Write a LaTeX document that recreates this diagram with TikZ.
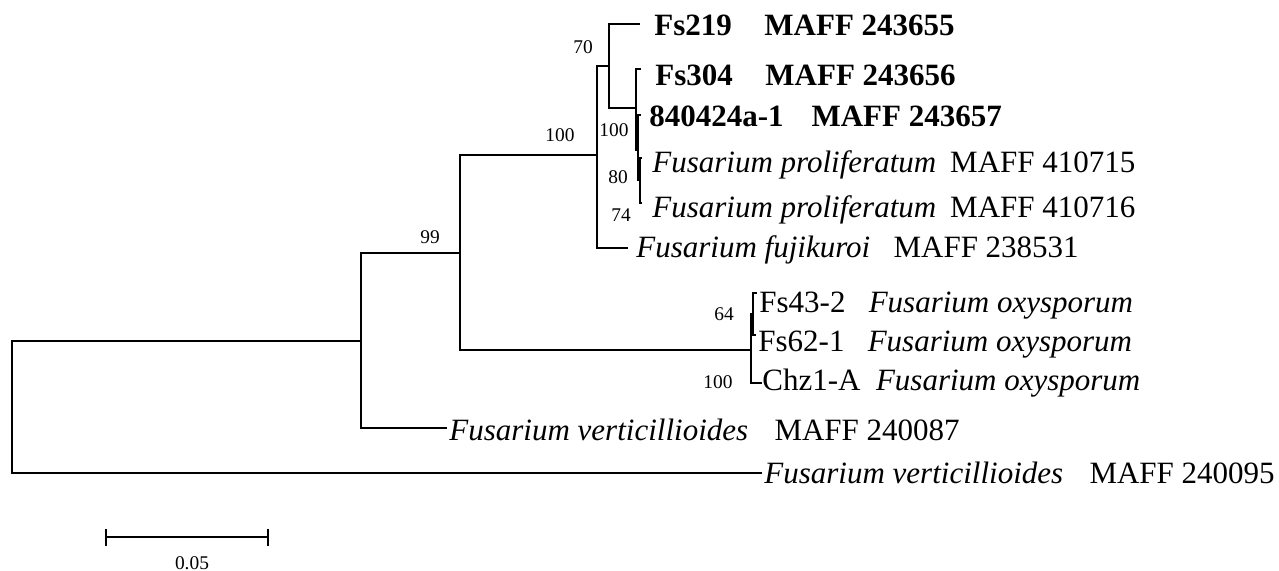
\documentclass[tikz,border=0pt]{standalone}
\usepackage{fontspec}
\setmainfont{Liberation Serif}
\usetikzlibrary{arrows.meta}
\begin{document}
\begin{tikzpicture}[x=0.5pt,y=-0.5pt,
  br/.style={line width=1pt},
  leaf/.style={anchor=base west,inner sep=0pt,font=\fontsize{15.5}{18}\selectfont},
  boot/.style={inner sep=0pt,font=\fontsize{9.7}{11}\selectfont}]
\useasboundingbox (0,0) rectangle (1279,571);
% internal nodes
\coordinate (root) at (12,407);
\coordinate (A) at (361,341);
\coordinate (B) at (460,253);
\coordinate (C) at (597,155);
\coordinate (D) at (609,66);
\coordinate (E) at (636,108);
\coordinate (F) at (638,150);
\coordinate (G) at (640,180);
\coordinate (H) at (751,350);
\coordinate (I) at (753,314);
% leaf tips
\coordinate (t219) at (640,24);
\coordinate (t304) at (641,69);
\coordinate (t840) at (641,115);
\coordinate (tp1) at (642,158);
\coordinate (tp2) at (642,203);
\coordinate (tfuj) at (628,248);
\coordinate (t43) at (757,293);
\coordinate (t62) at (756,335);
\coordinate (tchz) at (762,383);
\coordinate (tv87) at (447,428);
\coordinate (tv95) at (762,473);
% branches
\draw[br] (root) |- (A);
\draw[br] (root) |- (tv95);
\draw[br] (A) |- (B);
\draw[br] (A) |- (tv87);
\draw[br] (B) |- (C);
\draw[br] (B) |- (H);
\draw[br] (C) |- (D);
\draw[br] (C) |- (tfuj);
\draw[br] (D) |- (t219);
\draw[br] (D) |- (E);
\draw[br] (E) |- (t304);
\draw[br] (E) |- (F);
\draw[br] (F) |- (t840);
\draw[br] (F) |- (G);
\draw[br] (G) |- (tp1);
\draw[br] (G) |- (tp2);
\draw[br] (H) |- (I);
\draw[br] (H) |- (tchz);
\draw[br] (I) |- (t43);
\draw[br] (I) |- (t62);
% leaf labels
\node[leaf] (l219) at ([xshift=7pt]t219 |- 0,36) {\textbf{Fs219}\hspace{1.05em}\textbf{MAFF 243655}};
\node[leaf] (l304) at ([xshift=7pt]t304 |- 0,86) {\textbf{Fs304}\hspace{1.05em}\textbf{MAFF 243656}};
\node[leaf] (l840) at ([xshift=4pt]t840 |- 0,127) {\textbf{840424a-1}\hspace{0.9em}\textbf{MAFF 243657}};
\node[leaf] (lp1) at ([xshift=5pt]tp1 |- 0,173) {\textit{Fusarium proliferatum}\hspace{0.45em}MAFF 410715};
\node[leaf] (lp2) at ([xshift=5pt]tp2 |- 0,218) {\textit{Fusarium proliferatum}\hspace{0.45em}MAFF 410716};
\node[leaf] (lfuj) at ([xshift=4pt]tfuj |- 0,258) {\textit{Fusarium fujikuroi}\hspace{0.75em}MAFF 238531};
\node[leaf] (l43) at ([xshift=1pt]t43 |- 0,313) {Fs43-2\hspace{0.75em}\textit{Fusarium oxysporum}};
\node[leaf] (l62) at ([xshift=1pt]t62 |- 0,352) {Fs62-1\hspace{0.75em}\textit{Fusarium oxysporum}};
\node[leaf] (lchz) at ([xshift=0pt]tchz |- 0,391) {Chz1-A\hspace{0.5em}\textit{Fusarium oxysporum}};
\node[leaf] (lv87) at ([xshift=1pt]tv87 |- 0,440) {\textit{Fusarium verticillioides}\hspace{0.85em}MAFF 240087};
\node[leaf] (lv95) at ([xshift=1pt]tv95 |- 0,483) {\textit{Fusarium verticillioides}\hspace{0.85em}MAFF 240095};
% bootstrap values
\node[boot] (b70) at (583,47) {70};
\node[boot] (b100a) at (560,135) {100};
\node[boot] (b100b) at (614,130) {100};
\node[boot] (b80) at (618,177) {80};
\node[boot] (b74) at (621,215) {74};
\node[boot] (b99) at (430,237) {99};
\node[boot] (b64) at (724,314) {64};
\node[boot] (b100c) at (718,382) {100};
% scale bar
\coordinate (sb1) at (105,537);
\coordinate (sb2) at (269,537);
\draw[br,{Bar[width=8.5pt]}-{Bar[width=8.5pt]}] (sb1) -- (sb2);
\node[boot] (sbl) at (192,563) {0.05};
\end{tikzpicture}
\end{document}
